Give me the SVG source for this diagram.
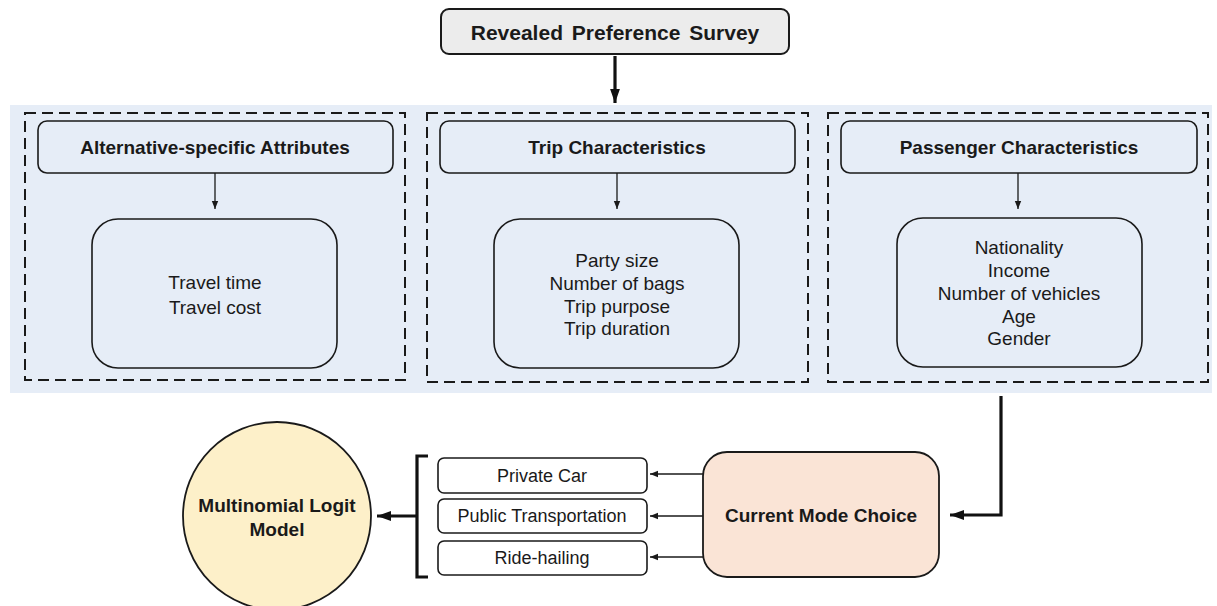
<svg xmlns="http://www.w3.org/2000/svg" width="1217" height="606" viewBox="0 0 1217 606">
<defs>
<style>
.t{font-family:"Liberation Sans",Arial,sans-serif;fill:#1a1a1a;text-anchor:middle}
.b{font-weight:bold;font-size:19px}
.n{font-size:19px}
.o{font-size:18px}
.box{fill:none;stroke:#1a1a1a;stroke-width:1.6}
.dash{fill:none;stroke:#1a1a1a;stroke-width:2;stroke-dasharray:11,6}
.thin{stroke:#1a1a1a;stroke-width:1.3;fill:none}
.thick{stroke:#111;stroke-width:3.2;fill:none}
</style>
<marker id="ah" viewBox="0 0 10 10" refX="10" refY="5" markerWidth="8" markerHeight="8" markerUnits="userSpaceOnUse" orient="auto"><path d="M0,1 L10,5 L0,9 z" fill="#1a1a1a"/></marker>
<marker id="ahb" viewBox="0 0 10 10" refX="10" refY="5" markerWidth="14" markerHeight="14" markerUnits="userSpaceOnUse" orient="auto"><path d="M0,1.5 L10,5 L0,8.5 z" fill="#111"/></marker>
</defs>
<rect x="10" y="105" width="1202" height="288" fill="#e6edf7"/>
<g id="survey">
<rect x="441" y="9" width="348" height="45" rx="8" fill="#ececec" stroke="#1a1a1a" stroke-width="2"/>
<text class="t" x="615" y="40" font-weight="bold" font-size="21" word-spacing="3">Revealed Preference Survey</text>
</g>
<g id="group-alt">
<rect class="dash" x="25" y="113" width="380" height="267"/>
<rect class="box" x="38" y="121" width="355" height="52" rx="9"/>
<text class="t b" x="215" y="154">Alternative-specific Attributes</text>
<rect class="box" x="92" y="219" width="245" height="149" rx="26"/>
<text class="t n" x="215" y="289">Travel time</text>
<text class="t n" x="215" y="314">Travel cost</text>
</g>
<g id="group-trip">
<rect class="dash" x="427" y="113" width="381" height="269"/>
<rect class="box" x="440" y="121" width="355" height="52" rx="9"/>
<text class="t b" x="617" y="154">Trip Characteristics</text>
<rect class="box" x="494" y="219" width="245" height="149" rx="26"/>
<text class="t n" x="617" y="267">Party size</text>
<text class="t n" x="617" y="290">Number of bags</text>
<text class="t n" x="617" y="313">Trip purpose</text>
<text class="t n" x="617" y="335">Trip duration</text>
</g>
<g id="group-pass">
<rect class="dash" x="828" y="113" width="380" height="269"/>
<rect class="box" x="841" y="121" width="356" height="52" rx="9"/>
<text class="t b" x="1019" y="154">Passenger Characteristics</text>
<rect class="box" x="897" y="218" width="245" height="149" rx="26"/>
<text class="t n" x="1019" y="254">Nationality</text>
<text class="t n" x="1019" y="277">Income</text>
<text class="t n" x="1019" y="300">Number of vehicles</text>
<text class="t n" x="1019" y="323">Age</text>
<text class="t n" x="1019" y="345">Gender</text>
</g>
<g id="mode-choice">
<rect x="703" y="452" width="236" height="125" rx="24" fill="#fae4d6" stroke="#1a1a1a" stroke-width="1.8"/>
<text class="t b" x="821" y="522">Current Mode Choice</text>
</g>
<g id="opt-car">
<rect class="box" x="438" y="458" width="209" height="35" rx="6"/>
<text class="t o" x="542" y="482">Private Car</text>
</g>
<g id="opt-pt">
<rect class="box" x="438" y="499" width="209" height="34" rx="6"/>
<text class="t o" x="542" y="522">Public Transportation</text>
</g>
<g id="opt-rh">
<rect class="box" x="438" y="541" width="209" height="34" rx="6"/>
<text class="t o" x="542" y="564">Ride-hailing</text>
</g>
<g id="mnl">
<circle cx="277" cy="516" r="94" fill="#fdf0c9" stroke="#1a1a1a" stroke-width="1.8"/>
<text class="t b" x="277" y="512">Multinomial Logit</text>
<text class="t b" x="277" y="536">Model</text>
</g>
<g id="connectors">
<line class="thick" x1="615" y1="56" x2="615" y2="103" marker-end="url(#ahb)"/>
<line class="thin" x1="215" y1="173" x2="215" y2="209" marker-end="url(#ah)"/>
<line class="thin" x1="617" y1="173" x2="617" y2="209" marker-end="url(#ah)"/>
<line class="thin" x1="1018" y1="173" x2="1018" y2="209" marker-end="url(#ah)"/>
<polyline class="thick" points="1001,396 1001,515 950,515" marker-end="url(#ahb)"/>
<line class="thin" x1="703" y1="474" x2="650" y2="474" marker-end="url(#ah)"/>
<line class="thin" x1="703" y1="516" x2="650" y2="516" marker-end="url(#ah)"/>
<line class="thin" x1="703" y1="557" x2="650" y2="557" marker-end="url(#ah)"/>
<polyline class="thick" points="428,456 417,456 417,577 428,577"/>
<line class="thick" x1="417" y1="516" x2="377" y2="516" marker-end="url(#ahb)"/>
</g>
</svg>
